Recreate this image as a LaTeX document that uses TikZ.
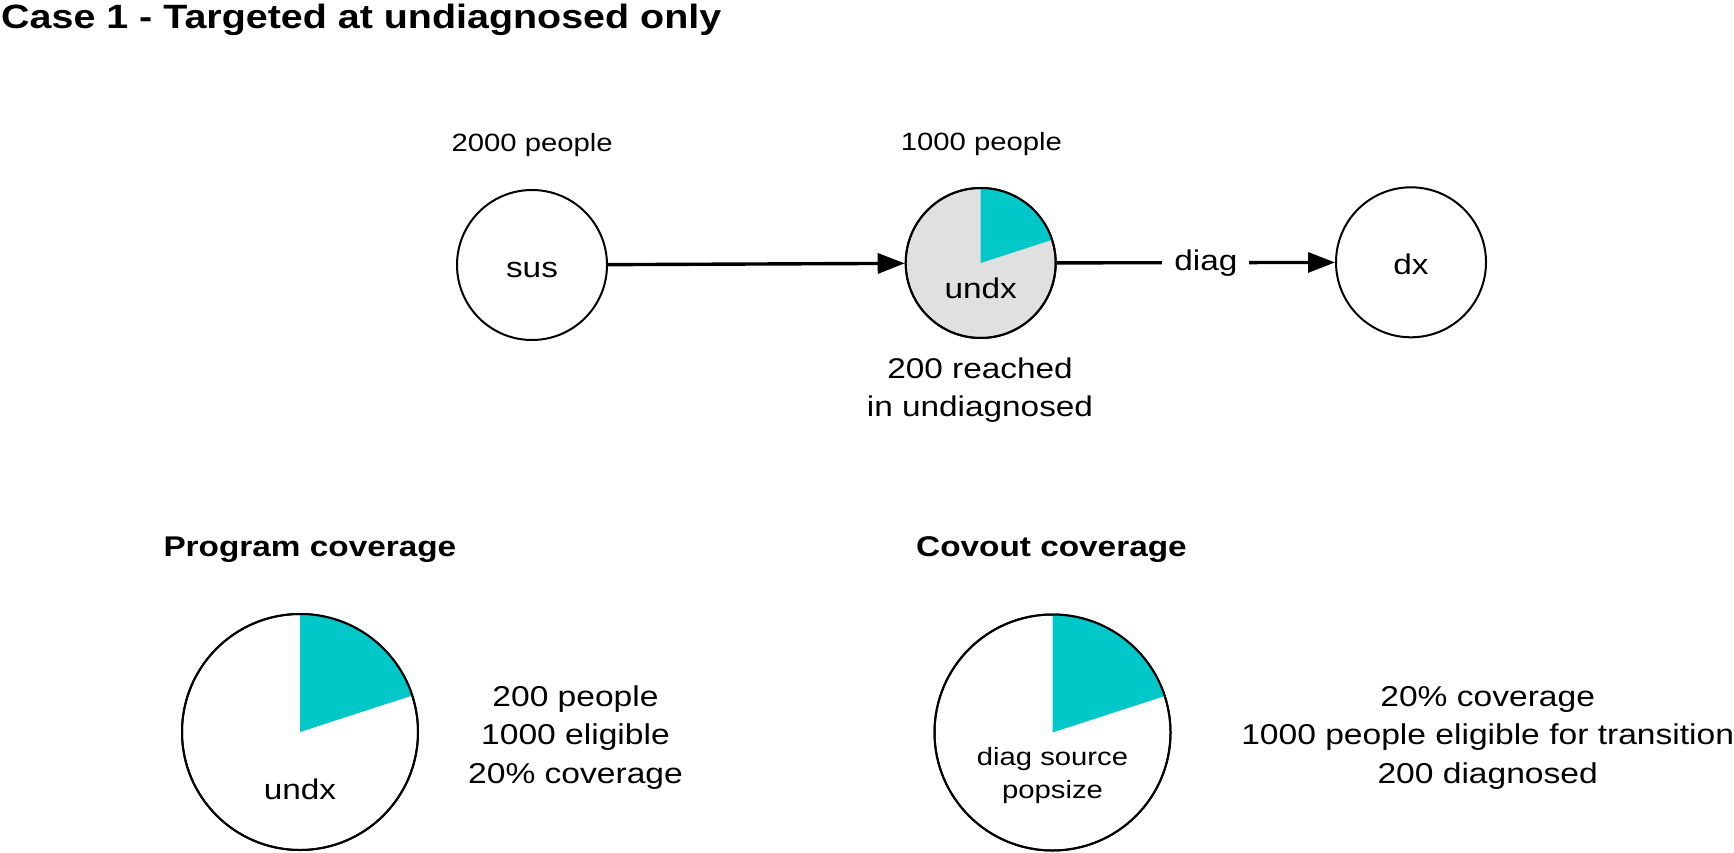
\documentclass[tikz,border=0pt]{standalone}
\usepackage{fontspec}
\setmainfont{Liberation Sans}[FakeStretch=1.17]
\usetikzlibrary{arrows.meta}
\definecolor{pcyan}{RGB}{0,200,200}
\definecolor{pgray}{RGB}{224,224,224}
\newcommand\ftitle{\fontsize{33.7}{40}\selectfont\bfseries}
\newcommand\fhead{\fontsize{28.5}{34}\selectfont\bfseries}
\newcommand\fppl{\fontsize{25}{30}\selectfont}
\newcommand\flab{\fontsize{28.5}{38.4}\selectfont}
\newcommand\fsmall{\fontsize{25}{33.3}\selectfont}
\newcommand\finfo{\fontsize{28.7}{38.5}\selectfont}
\begin{document}
\begin{tikzpicture}[x=1pt,y=-1pt,
  state/.style={circle, draw, line width=2pt, minimum size=150pt, inner sep=0pt,
    text height=25pt, text depth=0pt, font=\flab},
  piebig/.style={circle, draw, line width=2pt, minimum size=236pt, inner sep=0pt, fill=white},
  conn/.style={line width=3.4pt, -{Triangle[length=27pt,width=20pt]}},
  txt/.style={anchor=base, inner sep=0pt, align=center},
  head/.style={anchor=base west, inner sep=0pt, font=\fhead}]
\fill[white] (0,0) rectangle (1734,853);
\useasboundingbox (0,0) rectangle (1734,853);

\node[anchor=base west, inner sep=0pt, font=\ftitle] (title) at (1,28.3) {Case 1 - Targeted at undiagnosed only};

% top row
\node[state] (sus) at (532,265) {sus};
\node[state, fill=pgray] (undx) at (980.7,263) {};
\fill[pcyan] (undx.center) -- ++(0,-75) arc[start angle=-90, end angle=-18, radius=75] -- cycle;
\draw[line width=2pt] (undx.center) circle[radius=75];
\node[txt, font=\flab] (undxlab) at (980.7,298.3) {undx};
\node[state] (dx) at (1411,262.3) {dx};

\draw[conn] (sus) -- (undx);
\draw[conn] (undx) -- node[pos=0.536, fill=white, font=\flab, inner xsep=12pt, inner ysep=2pt] (diaglab) {diag} (dx);

\node[txt, font=\fppl] (suspop) at (532.2,151.7) {2000 people};
\node[txt, font=\fppl] (undxpop) at (981.4,150.7) {1000 people};
\node[txt, font=\flab] (reached) at (980,416.7) {200 reached\\in undiagnosed};

% bottom left
\node[head] (proghead) at (163.3,556) {Program coverage};
\node[piebig] (progpie) at (300,732) {};
\fill[pcyan] (progpie.center) -- ++(0,-118) arc[start angle=-90, end angle=-18, radius=118] -- cycle;
\draw[line width=2pt] (progpie.center) circle[radius=118];
\node[txt, font=\flab] (proglab) at (300,799.3) {undx};
\node[txt, font=\finfo] (proginfo) at (575.5,783.3) {200 people\\1000 eligible\\20\% coverage};

% bottom right
\node[head] (covhead) at (916,556) {Covout coverage};
\node[piebig] (covpie) at (1052.5,732.5) {};
\fill[pcyan] (covpie.center) -- ++(0,-118) arc[start angle=-90, end angle=-18, radius=118] -- cycle;
\draw[line width=2pt] (covpie.center) circle[radius=118];
\node[txt, font=\fsmall] (covlab) at (1052.5,798.3) {diag source\\popsize};
\node[txt, font=\finfo] (covinfo) at (1487.7,783.3) {20\% coverage\\1000 people eligible for transition\\200 diagnosed};
\end{tikzpicture}
\end{document}
